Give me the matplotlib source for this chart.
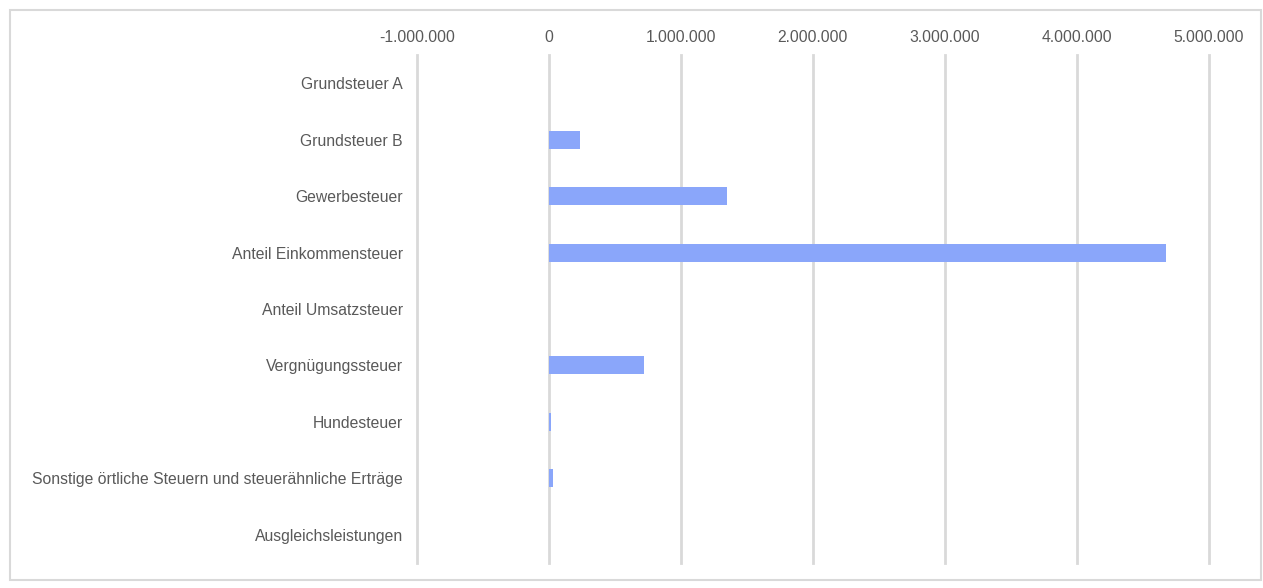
import matplotlib.pyplot as plt
from matplotlib.patches import Rectangle
from matplotlib.ticker import FuncFormatter, MultipleLocator

plt.rcParams["font.family"] = ["Liberation Sans", "DejaVu Sans"]

categories = [
    "Grundsteuer A",
    "Grundsteuer B",
    "Gewerbesteuer",
    "Anteil Einkommensteuer",
    "Anteil Umsatzsteuer",
    "Vergnügungssteuer",
    "Hundesteuer",
    "Sonstige örtliche Steuern und steuerähnliche Erträge",
    "Ausgleichsleistungen",
]
values = [0, 240000, 1350000, 4680000, 0, 720000, 15000, 30000, 0]

BAR_COLOR = "#8aa6fa"
GRID_COLOR = "#d9d9d9"
TEXT_COLOR = "#595959"


def german_thousands(x, pos):
    s = f"{abs(int(round(x))):,}".replace(",", ".")
    return ("-" if x < 0 else "") + s


fig = plt.figure(figsize=(12.63, 5.88), dpi=100)
ax = fig.add_axes([0.330, 0.0425, 0.627, 0.864])

y = range(len(categories))
ax.barh(y, values, height=0.32, color=BAR_COLOR, zorder=3)

ax.set_xlim(-1000000, 5000000)
ax.set_ylim(len(categories) - 0.5, -0.5)
ax.set_yticks(list(y))
ax.set_yticklabels(categories)
ax.xaxis.set_major_locator(MultipleLocator(1000000))
ax.xaxis.set_major_formatter(FuncFormatter(german_thousands))
ax.xaxis.tick_top()

ax.grid(axis="x", color=GRID_COLOR, linewidth=2, zorder=0)
for line in ax.get_xgridlines():
    line.set_clip_on(False)
ax.tick_params(axis="both", length=0, labelsize=11.3, colors=TEXT_COLOR)
ax.tick_params(axis="y", pad=10)
ax.tick_params(axis="x", pad=7)
for spine in ax.spines.values():
    spine.set_visible(False)

# outer chart border
fig.patches.append(Rectangle((10 / 1263, 8 / 588), 1251 / 1263, 570 / 588,
                             transform=fig.transFigure, fill=False,
                             edgecolor=GRID_COLOR, linewidth=1.5))

fig.savefig("out.png", dpi=100)
